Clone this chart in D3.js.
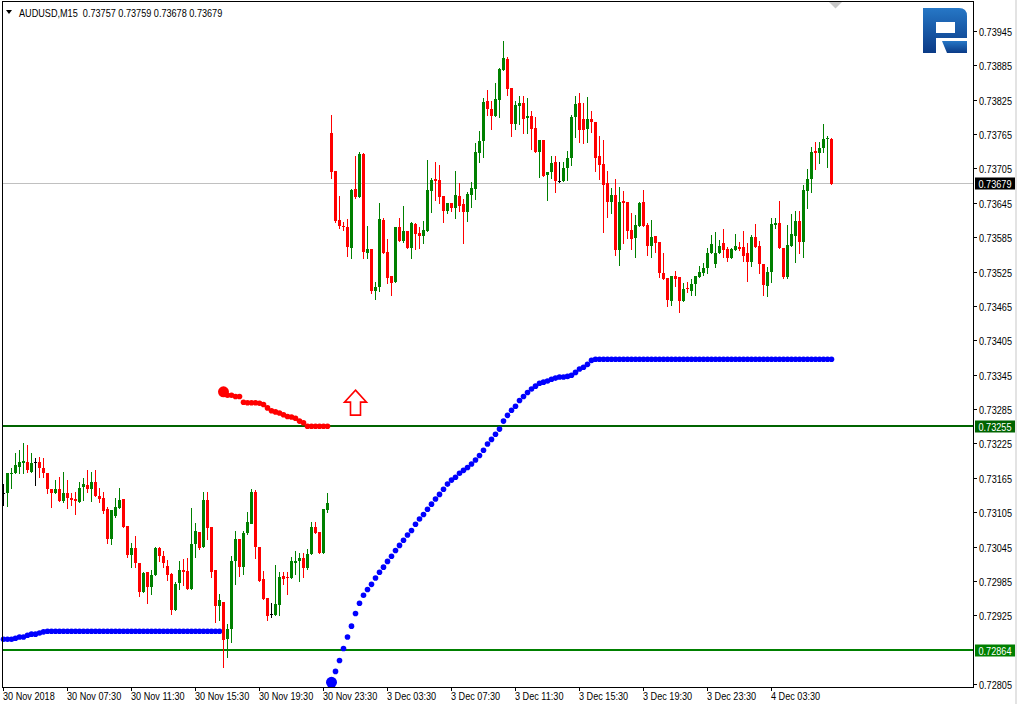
<!DOCTYPE html>
<html><head><meta charset="utf-8">
<script src="https://cdn.jsdelivr.net/npm/d3@7"></script>
<style>
html,body{margin:0;padding:0;background:#fff;overflow:hidden;}
svg{display:block;}
text{font-family:"Liberation Sans",Arial,sans-serif;font-size:11px;fill:#000;}
</style></head><body>
<svg id="c" width="1017" height="704"></svg>
<script>
// ---------- DATA ----------
const symbolTitle = "AUDUSD,M15  0.73757 0.73759 0.73678 0.73679";

const open = [
0.73138,0.73138,0.73171,0.73173,0.73183,0.73190,0.73192,0.73175,0.73192,0.73192,
0.73182,0.73173,0.73145,0.73138,0.73145,0.73124,0.73138,0.73129,0.73128,0.73124,
0.73148,0.73152,0.73145,0.73157,0.73134,0.73129,0.73110,0.73058,0.73098,0.73112,
0.73128,0.73080,0.73030,0.73042,0.73016,0.72965,0.73000,0.72974,0.72995,0.73042,
0.73028,0.73011,0.72997,0.72934,0.72981,0.73004,0.73002,0.72970,0.73049,0.73070,
0.73044,0.73126,0.73079,0.73004,0.72941,0.72949,0.72883,0.72901,0.73019,0.73058,
0.73009,0.73068,0.73086,0.73140,0.73044,0.72988,0.72956,0.72927,0.72925,0.72942,
0.72993,0.72991,0.72990,0.73016,0.73019,0.73025,0.73007,0.73032,0.73079,0.73070,
0.73033,0.73108,0.73767,0.73701,0.73615,0.73605,0.73603,0.73567,0.73670,0.73656,
0.73731,0.73558,0.73565,0.73491,0.73498,0.73615,0.73560,0.73518,0.73507,0.73603,
0.73579,0.73596,0.73567,0.73608,0.73593,0.73587,0.73596,0.73666,0.73687,0.73685,
0.73657,0.73631,0.73645,0.73636,0.73657,0.73643,0.73629,0.73659,0.73670,0.73732,
0.73753,0.73823,0.73809,0.73797,0.73825,0.73877,0.73896,0.73846,0.73783,0.73814,
0.73820,0.73793,0.73797,0.73776,0.73734,0.73755,0.73694,0.73699,0.73717,0.73683,
0.73683,0.73706,0.73724,0.73795,0.73820,0.73792,0.73774,0.73792,0.73786,0.73727,
0.73713,0.73680,0.73647,0.73659,0.73563,0.73649,0.73647,0.73598,0.73584,0.73605,
0.73647,0.73607,0.73570,0.73587,0.73577,0.73523,0.73514,0.73474,0.73518,0.73516,
0.73474,0.73497,0.73491,0.73504,0.73516,0.73523,0.73532,0.73558,0.73539,0.73558,
0.73575,0.73565,0.73549,0.73563,0.73568,0.73568,0.73558,0.73542,0.73586,0.73570,
0.73539,0.73500,0.73525,0.73607,0.73610,0.73567,0.73516,0.73570,0.73587,0.73614,
0.73577,0.73666,0.73687,0.73736,0.73732,0.73741,0.73757,0.73757];

const high = [
0.73155,0.73173,0.73182,0.73208,0.73213,0.73225,0.73222,0.73208,0.73199,0.73201,
0.73199,0.73173,0.73145,0.73161,0.73166,0.73175,0.73161,0.73138,0.73140,0.73157,
0.73164,0.73178,0.73175,0.73178,0.73148,0.73140,0.73114,0.73108,0.73129,0.73147,
0.73128,0.73080,0.73051,0.73063,0.73016,0.73000,0.73000,0.73004,0.73044,0.73044,
0.73038,0.73021,0.72998,0.72983,0.73019,0.73023,0.73025,0.73112,0.73086,0.73070,
0.73140,0.73141,0.73079,0.73004,0.72962,0.72949,0.72909,0.73028,0.73072,0.73058,
0.73072,0.73105,0.73145,0.73143,0.73044,0.73002,0.72956,0.72946,0.73012,0.73000,
0.73000,0.73000,0.73026,0.73038,0.73033,0.73033,0.73040,0.73087,0.73087,0.73070,
0.73110,0.73138,0.73799,0.73701,0.73657,0.73612,0.73617,0.73670,0.73727,0.73734,
0.73732,0.73605,0.73565,0.73507,0.73645,0.73619,0.73582,0.73518,0.73603,0.73619,
0.73640,0.73596,0.73612,0.73610,0.73603,0.73614,0.73720,0.73689,0.73717,0.73711,
0.73657,0.73645,0.73645,0.73701,0.73680,0.73652,0.73664,0.73682,0.73750,0.73771,
0.73828,0.73842,0.73823,0.73855,0.73881,0.73928,0.73900,0.73846,0.73823,0.73832,
0.73832,0.73828,0.73806,0.73795,0.73755,0.73755,0.73699,0.73727,0.73727,0.73717,
0.73717,0.73736,0.73799,0.73832,0.73837,0.73820,0.73830,0.73806,0.73786,0.73762,
0.73755,0.73701,0.73671,0.73687,0.73673,0.73666,0.73647,0.73628,0.73624,0.73647,
0.73668,0.73610,0.73615,0.73587,0.73577,0.73558,0.73514,0.73518,0.73526,0.73516,
0.73505,0.73507,0.73512,0.73518,0.73535,0.73540,0.73567,0.73589,0.73594,0.73580,
0.73600,0.73568,0.73567,0.73591,0.73577,0.73596,0.73575,0.73589,0.73608,0.73579,
0.73539,0.73533,0.73619,0.73619,0.73649,0.73567,0.73607,0.73626,0.73631,0.73631,
0.73677,0.73704,0.73743,0.73752,0.73752,0.73783,0.73762,0.73759];

const low = [
0.73117,0.73115,0.73147,0.73173,0.73173,0.73173,0.73175,0.73175,0.73152,0.73166,
0.73166,0.73138,0.73114,0.73138,0.73124,0.73122,0.73112,0.73117,0.73101,0.73122,
0.73126,0.73140,0.73124,0.73133,0.73122,0.73103,0.73051,0.73049,0.73096,0.73112,
0.73079,0.73026,0.73009,0.73009,0.72958,0.72965,0.72946,0.72962,0.72995,0.73019,
0.73009,0.72986,0.72928,0.72934,0.72970,0.72977,0.72970,0.72970,0.73026,0.73040,
0.73044,0.73059,0.72991,0.72913,0.72916,0.72834,0.72852,0.72878,0.72979,0.72993,
0.72997,0.73066,0.73086,0.73025,0.72984,0.72953,0.72916,0.72922,0.72925,0.72925,
0.72979,0.72962,0.72990,0.72997,0.72984,0.72991,0.73005,0.73032,0.73068,0.73033,
0.73033,0.73105,0.73689,0.73612,0.73601,0.73598,0.73553,0.73549,0.73654,0.73656,
0.73549,0.73549,0.73488,0.73477,0.73491,0.73558,0.73505,0.73484,0.73507,0.73579,
0.73577,0.73567,0.73549,0.73565,0.73567,0.73575,0.73596,0.73629,0.73650,0.73645,
0.73612,0.73628,0.73631,0.73619,0.73631,0.73575,0.73614,0.73638,0.73652,0.73717,
0.73725,0.73799,0.73774,0.73797,0.73795,0.73877,0.73834,0.73762,0.73774,0.73783,
0.73767,0.73767,0.73739,0.73734,0.73690,0.73692,0.73650,0.73689,0.73664,0.73682,
0.73683,0.73685,0.73711,0.73760,0.73752,0.73750,0.73752,0.73769,0.73701,0.73687,
0.73594,0.73621,0.73628,0.73554,0.73537,0.73575,0.73584,0.73565,0.73551,0.73605,
0.73605,0.73554,0.73551,0.73560,0.73516,0.73512,0.73465,0.73467,0.73500,0.73455,
0.73474,0.73490,0.73484,0.73484,0.73516,0.73519,0.73523,0.73558,0.73533,0.73558,
0.73551,0.73544,0.73549,0.73563,0.73563,0.73544,0.73509,0.73535,0.73568,0.73523,
0.73484,0.73483,0.73507,0.73601,0.73567,0.73514,0.73514,0.73570,0.73542,0.73558,
0.73551,0.73636,0.73664,0.73704,0.73715,0.73734,0.73708,0.73678];

const close = [
0.73138,0.73173,0.73173,0.73187,0.73192,0.73194,0.73178,0.73190,0.73192,0.73182,
0.73173,0.73145,0.73138,0.73145,0.73124,0.73138,0.73129,0.73126,0.73124,0.73148,
0.73154,0.73145,0.73157,0.73133,0.73128,0.73107,0.73058,0.73108,0.73114,0.73126,
0.73079,0.73030,0.73042,0.73016,0.72965,0.72998,0.72974,0.72995,0.73042,0.73028,
0.73016,0.72995,0.72935,0.72979,0.73004,0.73000,0.72970,0.73049,0.73072,0.73042,
0.73126,0.73077,0.73000,0.72941,0.72951,0.72883,0.72901,0.73019,0.73058,0.73009,
0.73068,0.73087,0.73141,0.73044,0.72984,0.72953,0.72925,0.72927,0.72944,0.72991,
0.72988,0.72990,0.73019,0.73019,0.73025,0.73007,0.73032,0.73079,0.73068,0.73033,
0.73110,0.73121,0.73699,0.73614,0.73605,0.73603,0.73568,0.73668,0.73656,0.73731,
0.73560,0.73565,0.73491,0.73498,0.73617,0.73558,0.73514,0.73505,0.73603,0.73579,
0.73596,0.73567,0.73610,0.73591,0.73587,0.73598,0.73668,0.73685,0.73683,0.73656,
0.73631,0.73645,0.73636,0.73659,0.73640,0.73629,0.73661,0.73671,0.73734,0.73753,
0.73821,0.73809,0.73797,0.73827,0.73879,0.73898,0.73844,0.73783,0.73816,0.73820,
0.73792,0.73797,0.73774,0.73734,0.73755,0.73692,0.73699,0.73715,0.73683,0.73683,
0.73706,0.73724,0.73795,0.73818,0.73772,0.73772,0.73792,0.73786,0.73724,0.73711,
0.73677,0.73647,0.73659,0.73563,0.73647,0.73645,0.73596,0.73582,0.73607,0.73645,
0.73605,0.73570,0.73586,0.73575,0.73523,0.73512,0.73476,0.73518,0.73512,0.73474,
0.73495,0.73495,0.73504,0.73518,0.73525,0.73532,0.73558,0.73574,0.73558,0.73570,
0.73563,0.73549,0.73565,0.73570,0.73565,0.73553,0.73542,0.73586,0.73568,0.73539,
0.73502,0.73525,0.73608,0.73610,0.73567,0.73516,0.73572,0.73591,0.73614,0.73577,
0.73668,0.73687,0.73734,0.73732,0.73741,0.73757,0.73759,0.73679];

// trailing-stop indicator (blue = support, red = resistance), each with its first bar index
const blueStopA_start = 0;
const blueStopA = [
0.72883,0.72883,0.72883,0.72885,0.72887,0.72887,0.72890,0.72892,0.72892,0.72894,
0.72896,0.72897,0.72897,0.72897,0.72897,0.72897,0.72897,0.72897,0.72897,0.72897,
0.72897,0.72897,0.72897,0.72897,0.72897,0.72897,0.72897,0.72897,0.72897,0.72897,
0.72897,0.72897,0.72897,0.72897,0.72897,0.72897,0.72897,0.72897,0.72897,0.72897,
0.72897,0.72897,0.72897,0.72897,0.72897,0.72897,0.72897,0.72897,0.72897,0.72897,
0.72897,0.72897,0.72897,0.72897,0.72897];
const redStop_start = 55;
const redStop = [
0.73315,0.73309,0.73309,0.73307,0.73307,0.73297,0.73296,0.73296,0.73296,0.73295,
0.73293,0.73287,0.73282,0.73280,0.73278,0.73275,0.73272,0.73271,0.73269,0.73264,
0.73261,0.73255,0.73255,0.73255,0.73255,0.73255,0.73255];
const blueStopB_start = 82;
const blueStopB = [
0.72808,0.72827,0.72846,0.72867,0.72887,0.72906,0.72928,0.72946,0.72960,0.72970,
0.72979,0.72990,0.73000,0.73009,0.73019,0.73028,0.73038,0.73047,0.73056,0.73065,
0.73073,0.73084,0.73093,0.73101,0.73110,0.73119,0.73128,0.73136,0.73145,0.73154,
0.73161,0.73166,0.73173,0.73178,0.73183,0.73189,0.73196,0.73204,0.73213,0.73224,
0.73232,0.73241,0.73250,0.73264,0.73274,0.73283,0.73290,0.73300,0.73307,0.73314,
0.73320,0.73325,0.73330,0.73332,0.73334,0.73337,0.73339,0.73341,0.73341,0.73342,
0.73344,0.73349,0.73355,0.73358,0.73363,0.73370,0.73372,0.73372,0.73372,0.73372,
0.73372,0.73372,0.73372,0.73372,0.73372,0.73372,0.73372,0.73372,0.73372,0.73372,
0.73372,0.73372,0.73372,0.73372,0.73372,0.73372,0.73372,0.73372,0.73372,0.73372,
0.73372,0.73372,0.73372,0.73372,0.73372,0.73372,0.73372,0.73372,0.73372,0.73372,
0.73372,0.73372,0.73372,0.73372,0.73372,0.73372,0.73372,0.73372,0.73372,0.73372,
0.73372,0.73372,0.73372,0.73372,0.73372,0.73372,0.73372,0.73372,0.73372,0.73372,
0.73372,0.73372,0.73372,0.73372,0.73372,0.73372];

const levelLines = [0.73255, 0.72864];
const levelColors = ["#006400", "#008000"];
const currentPrice = 0.73679;
const arrowBar = 88, arrowPrice = 0.73318;

const yTickValues = [0.73945,0.73885,0.73825,0.73765,0.73705,0.73645,0.73585,0.73525,0.73465,0.73405,
  0.73345,0.73285,0.73225,0.73165,0.73105,0.73045,0.72985,0.72925,0.72805];
const xTickBars = [0,16,32,48,64,80,96,112,128,144,160,176,192];
const xTickLabels = ["30 Nov 2018","30 Nov 07:30","30 Nov 11:30","30 Nov 15:30","30 Nov 19:30","30 Nov 23:30",
  "3 Dec 03:30","3 Dec 07:30","3 Dec 11:30","3 Dec 15:30","3 Dec 19:30","3 Dec 23:30","4 Dec 03:30"];

// ---------- CHART ----------
const svg = d3.select("#c");
const plotL = 2, plotR = 973, plotT = 1.5, plotB = 687;
const nBars = close.length;
const x = d3.scaleLinear().domain([0, nBars - 1]).range([3, 831]);
const y = d3.scaleLinear().domain([0.72805, 0.73945]).range([684, 31]);
const fmt = d3.format(".5f");
const SX = 0.83; // horizontal squeeze to mimic the narrow terminal font

function label(parent, tx, ty, str, fill){
  return parent.append("text")
    .attr("transform", `translate(${tx},${ty}) scale(${SX},1)`)
    .attr("x",0).attr("y",0)
    .attr("xml:space","preserve").style("white-space","pre")
    .style("fill", fill || "#000")
    .text(str);
}

svg.append("rect").attr("width",1017).attr("height",704).attr("fill","#fff");
svg.append("rect").attr("x",1015).attr("y",0).attr("width",2).attr("height",704).attr("fill","#e3e3e3");

// current price line
svg.append("line").attr("x1",plotL).attr("x2",plotR)
  .attr("y1",Math.round(y(currentPrice))+0.5).attr("y2",Math.round(y(currentPrice))+0.5)
  .attr("stroke","#c0c0c0").attr("stroke-width",1);

// level lines
levelLines.forEach((v,k)=>{
  svg.append("rect").attr("x",plotL).attr("width",plotR-plotL)
    .attr("y",Math.round(y(v))-1).attr("height",2).attr("fill",levelColors[k]);
});

// indicator dots
function dots(arr, start, color, bigFirst){
  const g = svg.append("g").attr("fill",color);
  g.selectAll("circle").data(arr).join("circle")
    .attr("cx",(d,j)=>x(start+j)+0.5).attr("cy",d=>y(d))
    .attr("r",(d,j)=> (bigFirst && j===0) ? 5.5 : 2.8);
}
dots(blueStopA, blueStopA_start, "#0000ff", false);
dots(redStop, redStop_start, "#ff0000", true);
dots(blueStopB, blueStopB_start, "#0000ff", true);

// candles
const idx = d3.range(nBars);
const col = i => close[i] > open[i] ? "#008000" : (close[i] < open[i] ? "#ff0000" : "#000000");
const cg = svg.append("g").attr("shape-rendering","crispEdges");
cg.selectAll("rect.w").data(idx).join("rect").attr("class","w")
  .attr("x",i=>Math.round(x(i))).attr("width",1)
  .attr("y",i=>Math.round(y(high[i]))).attr("height",i=>Math.max(1,Math.round(y(low[i]))-Math.round(y(high[i]))+1))
  .attr("fill",col);
cg.selectAll("rect.b").data(idx).join("rect").attr("class","b")
  .attr("x",i=>Math.round(x(i))-1).attr("width",3)
  .attr("y",i=>Math.round(Math.min(y(open[i]),y(close[i]))))
  .attr("height",i=>Math.max(1,Math.round(Math.abs(y(open[i])-y(close[i])))))
  .attr("fill",col);

// up arrow marker
{
  const ax = x(arrowBar)+0.5, ay = y(arrowPrice);
  const pts = [[0,0],[11,12],[5,12],[5,25],[-5,25],[-5,12],[-11,12]].map(p=>[ax+p[0],ay+p[1]]);
  svg.append("polygon").attr("points",pts.map(p=>p.join(",")).join(" "))
    .attr("fill","#fff").attr("stroke","#ff0000").attr("stroke-width",1.6).attr("stroke-linejoin","miter");
}

// frame
svg.append("rect").attr("x",plotL+0.5).attr("y",plotT).attr("width",plotR-plotL).attr("height",plotB-plotT+0.5)
  .attr("fill","none").attr("stroke","#000").attr("stroke-width",1);

// y axis ticks + labels
const yg = svg.append("g");
yTickValues.forEach(v=>{
  const yy = Math.round(y(v))+0.5;
  yg.append("line").attr("x1",plotR).attr("x2",plotR+4).attr("y1",yy).attr("y2",yy).attr("stroke","#000");
  label(yg, 979, yy+4, fmt(v));
});

// price labels
function priceLabel(v, bg){
  const yy = Math.round(y(v))+0.5;
  svg.append("rect").attr("x",975).attr("y",yy-6).attr("width",40).attr("height",12).attr("fill",bg);
  label(svg, 978.5, yy+4, fmt(v), "#fff");
}
priceLabel(currentPrice, "#000");
levelLines.forEach((v,k)=>priceLabel(v, levelColors[k]));

// x axis ticks + labels
const xg = svg.append("g");
xTickBars.forEach((b,k)=>{
  const xx = Math.round(x(b))+0.5;
  xg.append("line").attr("x1",xx).attr("x2",xx).attr("y1",plotB).attr("y2",plotB+4).attr("stroke","#000");
  label(xg, xx-0.5, 700, xTickLabels[k]);
});

// header
svg.append("path").attr("d","M6,10 L12,10 L9,14 Z").attr("fill","#000");
label(svg, 19, 16.5, symbolTitle);

// chart-shift marker
svg.append("path").attr("d","M829,2 L842,2 L835.5,8.5 Z").attr("fill","#c8c8c8");

// logo
const defs = svg.append("defs");
const gr = defs.append("linearGradient").attr("id","lg").attr("x1",0).attr("y1",0).attr("x2",0).attr("y2",1);
gr.append("stop").attr("offset","0%").attr("stop-color","#2677c6");
gr.append("stop").attr("offset","100%").attr("stop-color","#0a3a86");
const logo = svg.append("g").attr("transform","translate(923,8)");
logo.append("path").attr("fill","url(#lg)").attr("fill-rule","evenodd")
  .attr("d","M0,0 H36 Q44,0 44,8 V30 H13 V45 H0 Z M13,14 H32 V25 H13 Z");
logo.append("path").attr("fill","url(#lg)").attr("d","M19,33 H44 V45 H24 Z");
</script>
</body></html>
